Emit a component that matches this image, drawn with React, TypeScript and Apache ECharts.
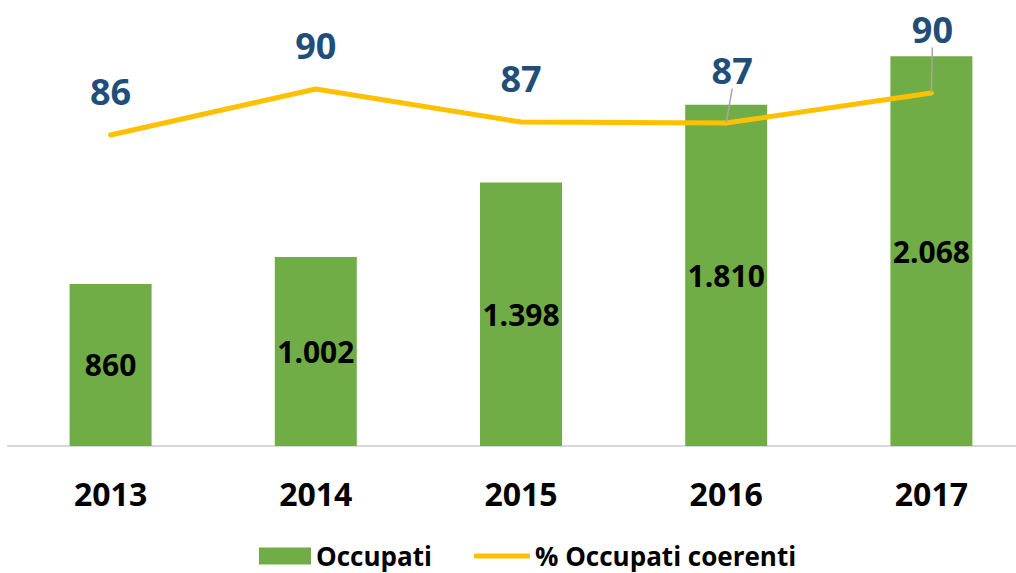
import React, { useEffect, useRef } from "react";
import * as echarts from "echarts";

const years = ["2013", "2014", "2015", "2016", "2017"];
const occupati = [860, 1002, 1398, 1810, 2068];
const coerenti = [86.0, 90.0, 87.13, 87.04, 89.65];

const fmtThousands = (v: number) =>
  String(Math.round(v)).replace(/\B(?=(\d{3})+(?!\d))/g, ".");

const FONT = "'Open Sans', 'Noto Sans', sans-serif";

export default function App() {
  const ref = useRef<HTMLDivElement>(null);
  useEffect(() => {
    if (!ref.current) return;
    const chart = echarts.init(ref.current, undefined, { renderer: "svg" });
    const lineData = coerenti.map((v, i) => {
      if (i === 3 || i === 4) {
        return { value: v, labelLine: { show: true } };
      }
      return { value: v };
    });
    chart.setOption({
      animation: false,
      textStyle: { fontFamily: FONT },
      grid: {
        left: 8,
        width: 1026,
        top: 0,
        bottom: 127,
        containLabel: false,
        outerBoundsMode: "none",
      },
      legend: [
        {
          data: [{ name: "Occupati", icon: "rect" }],
          left: 259,
          top: 543,
          padding: 0,
          itemWidth: 52,
          itemHeight: 17,
          itemGap: 5,
          textStyle: { fontFamily: FONT, fontWeight: "bold", fontSize: 26, color: "#000" },
        },
        {
          data: [{ name: "% Occupati coerenti", icon: "roundRect" }],
          left: 474,
          top: 543,
          padding: 0,
          itemWidth: 56,
          itemHeight: 5,
          textStyle: { fontFamily: FONT, fontWeight: "bold", fontSize: 26, color: "#000" },
        },
      ],
      xAxis: {
        type: "category",
        data: years,
        axisLine: { show: true, lineStyle: { color: "#D9D9D9", width: 2 } },
        axisTick: { show: false },
        axisLabel: {
          margin: 31,
          fontFamily: FONT,
          fontWeight: "bold",
          fontSize: 32,
          color: "#000",
        },
      },
      yAxis: [
        { type: "value", min: 0, max: 2366, show: false },
        { type: "value", min: 58.96, max: 97.74, show: false },
      ],
      series: [
        {
          name: "Occupati",
          type: "bar",
          data: occupati,
          barWidth: 82,
          itemStyle: { color: "#70AD47" },
          label: {
            show: true,
            position: "inside",
            formatter: (p: any) => fmtThousands(p.value),
            fontFamily: FONT,
            fontWeight: "bold",
            fontSize: 30,
            color: "#000",
          },
        },
        {
          name: "% Occupati coerenti",
          type: "line",
          yAxisIndex: 1,
          data: lineData,
          symbol: "circle",
          symbolSize: 1,
          showSymbol: true,
          lineStyle: { color: "#FFC000", width: 5, cap: "round", join: "round" },
          itemStyle: { color: "#FFC000" },
          z: 5,
          label: {
            show: true,
            position: "top",
            distance: 25,
            formatter: (p: any) => String(Math.round(p.value)),
            fontFamily: FONT,
            fontWeight: "bold",
            fontSize: 36,
            color: "#1F4E79",
          },
          labelLine: { show: false, lineStyle: { color: "#A6A6A6", width: 1.5 } },
          labelLayout: (params: any) => {
            if (params.dataIndex === 3) return { dx: 6, dy: -9 };
            if (params.dataIndex === 4) return { dx: 1, dy: -20 };
            return {};
          },
        },
      ],
    });
    return () => chart.dispose();
  }, []);
  return (
    <div
      ref={ref}
      style={{ position: "absolute", left: 0, top: 0, width: 1016, height: 573 }}
    />
  );
}
